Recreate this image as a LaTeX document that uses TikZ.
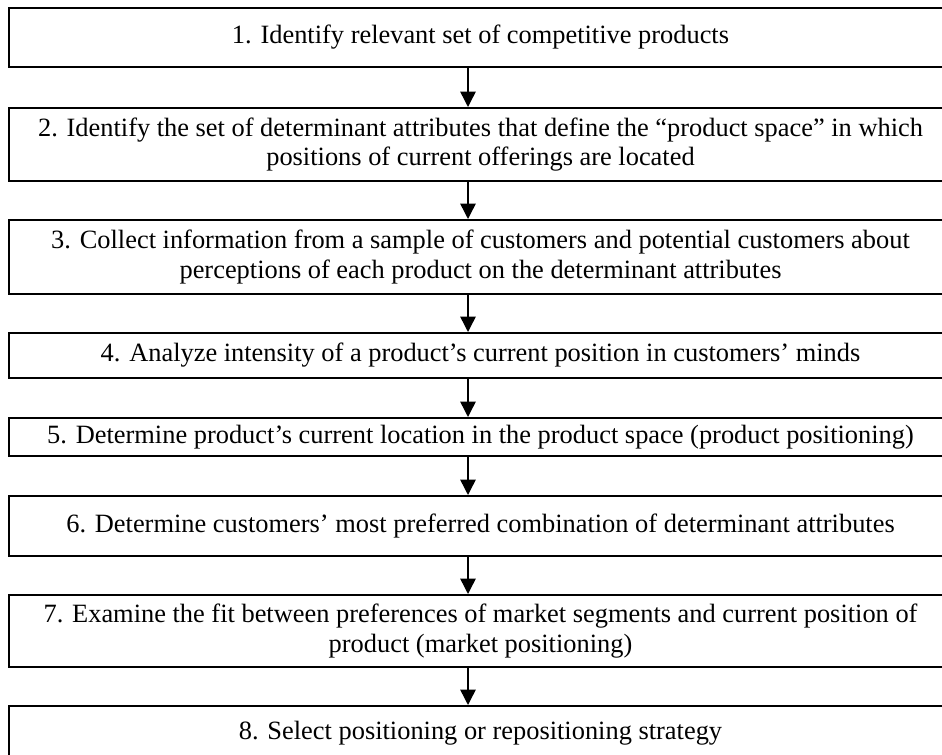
\documentclass[tikz,border=0pt]{standalone}
\usepackage{fontspec}
\setmainfont{Liberation Serif}
\usetikzlibrary{arrows.meta}
\tikzset{
  stepbox/.style={draw=black, line width=1.5pt, rectangle, minimum width=707.25pt,
    align=center, inner sep=2pt, font=\fontsize{19.8}{22.2}\selectfont},
  flowarrow/.style={draw=black, line width=1.1pt, -{Triangle[width=11.5pt,length=11.5pt]}}
}
\begin{document}
\begin{tikzpicture}[x=0.75pt,y=-0.75pt]
\useasboundingbox (0,0) rectangle (942,755);
\node[stepbox, minimum height=44.25pt] (b1) at (480.5,37.5) {1. Identify relevant set of competitive products};
\node[stepbox, minimum height=54.75pt] (b2) at (480.5,144.5) {2. Identify the set of determinant attributes that define the “product space” in which\\positions of current offerings are located};
\node[stepbox, minimum height=55.5pt] (b3) at (480.5,257) {3. Collect information from a sample of customers and potential customers about\\perceptions of each product on the determinant attributes};
\node[stepbox, minimum height=33.75pt] (b4) at (480.5,355.5) {4. Analyze intensity of a product’s current position in customers’ minds};
\node[stepbox, minimum height=28.5pt] (b5) at (480.5,437) {5. Determine product’s current location in the product space (product positioning)};
\node[stepbox, minimum height=45pt] (b6) at (480.5,526) {6. Determine customers’ most preferred combination of determinant attributes};
\node[stepbox, minimum height=54pt] (b7) at (480.5,631) {7. Examine the fit between preferences of market segments and current position of\\product (market positioning)};
\node[stepbox, minimum height=40.5pt] (b8) at (480.5,733) {8. Select positioning or repositioning strategy};
\coordinate (ax) at (468,0);
\draw[flowarrow] (b1.south -| ax) -- (b2.north -| ax);
\draw[flowarrow] (b2.south -| ax) -- (b3.north -| ax);
\draw[flowarrow] (b3.south -| ax) -- (b4.north -| ax);
\draw[flowarrow] (b4.south -| ax) -- (b5.north -| ax);
\draw[flowarrow] (b5.south -| ax) -- (b6.north -| ax);
\draw[flowarrow] (b6.south -| ax) -- (b7.north -| ax);
\draw[flowarrow] (b7.south -| ax) -- (b8.north -| ax);
\end{tikzpicture}
\end{document}
